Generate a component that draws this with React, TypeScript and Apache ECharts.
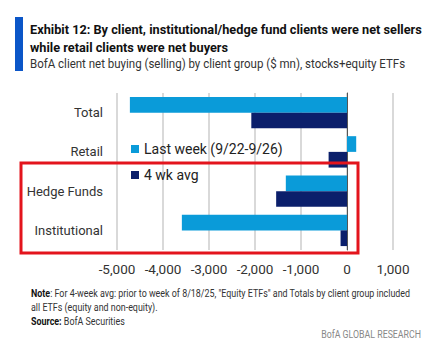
import React, { useEffect, useRef } from "react";
import * as echarts from "echarts";

const categories = ["Total", "Retail", "Hedge Funds", "Institutional"];
const lastWeek = [-4720, 200, -1330, -3590];
const fourWeekAvg = [-2080, -400, -1540, -140];
const seriesNames = ["Last week (9/22-9/26)", "4 wk avg"];
const xTicks = { min: -5000, max: 1000, interval: 1000 };

const FONT = "Roboto, sans-serif";

export default function App() {
  const ref = useRef<HTMLDivElement>(null);
  useEffect(() => {
    const chart = echarts.init(ref.current!, null, { renderer: "svg" });
    const noteRich = {
      b: { font: `bold 11px ${FONT}`, fill: "#111" },
      n: { font: `11px ${FONT}`, fill: "#333" },
    };
    chart.setOption({
      animation: false,
      textStyle: { fontFamily: FONT },
      grid: { left: 117, right: 45, top: 93, height: 157 },
      legend: {
        orient: "vertical",
        left: 126,
        top: 136,
        itemWidth: 8,
        itemHeight: 8,
        itemGap: 10,
        icon: "rect",
        textStyle: { fontSize: 14, color: "#222", fontFamily: FONT, lineHeight: 16 },
        data: seriesNames,
      },
      xAxis: {
        type: "value",
        min: xTicks.min,
        max: xTicks.max,
        interval: xTicks.interval,
        axisLine: { show: false },
        axisTick: { show: false },
        axisLabel: {
          fontSize: 13.5,
          color: "#333",
          margin: 12,
          formatter: (v: number) => v.toLocaleString("en-US"),
        },
        splitLine: { show: true, lineStyle: { color: "#cccccc", width: 1.5 } },
      },
      yAxis: {
        type: "category",
        data: categories,
        inverse: true,
        axisLine: { show: true, onZero: true, lineStyle: { color: "#555", width: 1 } },
        axisTick: { show: false },
        axisLabel: { fontSize: 13, color: "#333", margin: 14 },
        position: "left",
      },
      series: [
        {
          name: seriesNames[0],
          type: "bar",
          data: lastWeek,
          itemStyle: { color: "#0a9bd9" },
          barGap: "0%",
          barCategoryGap: "20%",
        },
        {
          name: seriesNames[1],
          type: "bar",
          data: fourWeekAvg,
          itemStyle: { color: "#0b1f6b" },
          barGap: "0%",
          barCategoryGap: "20%",
        },
      ],
      graphic: [
        { type: "rect", shape: { x: 15, y: 17, width: 8, height: 54 }, style: { fill: "#0b56c8" } },
        {
          type: "text", x: 30, y: 29, scaleX: 0.98,
          style: { text: "Exhibit 12: By client, institutional/hedge fund clients were net sellers", font: `bold 13px ${FONT}`, fill: "#111", verticalAlign: "middle" },
        },
        {
          type: "text", x: 30, y: 47, scaleX: 0.98,
          style: { text: "while retail clients were net buyers", font: `bold 13px ${FONT}`, fill: "#111", verticalAlign: "middle" },
        },
        {
          type: "text", x: 30, y: 64, scaleX: 0.885,
          style: { text: "BofA client net buying (selling) by client group ($ mn), stocks+equity ETFs", font: `13px ${FONT}`, fill: "#333", verticalAlign: "middle" },
        },
        {
          type: "rect", z: 100,
          shape: { x: 21, y: 163, width: 337, height: 90 },
          style: { fill: "none", stroke: "#e3141c", lineWidth: 3 },
        },
        {
          type: "text", x: 31, y: 293, scaleX: 0.81,
          style: {
            rich: noteRich,
            text: "{b|Note}{n|: For 4-week avg: prior to week of 8/18/25, \"Equity ETFs\" and Totals by client group included}",
            verticalAlign: "middle",
          },
        },
        {
          type: "text", x: 31, y: 307, scaleX: 0.81,
          style: { text: "all ETFs (equity and non-equity).", font: `11px ${FONT}`, fill: "#333", verticalAlign: "middle" },
        },
        {
          type: "text", x: 31, y: 321, scaleX: 0.81,
          style: { rich: noteRich, text: "{b|Source:}{n| BofA Securities}", verticalAlign: "middle" },
        },
        {
          type: "text", x: 421, y: 334, scaleX: 0.88,
          style: { text: "BofA GLOBAL RESEARCH", font: `10px ${FONT}`, fill: "#888", align: "right", verticalAlign: "middle" },
        },
      ],
    });
    return () => chart.dispose();
  }, []);
  return <div ref={ref} style={{ width: 438, height: 357, position: "absolute", left: 0, top: 0 }} />;
}
